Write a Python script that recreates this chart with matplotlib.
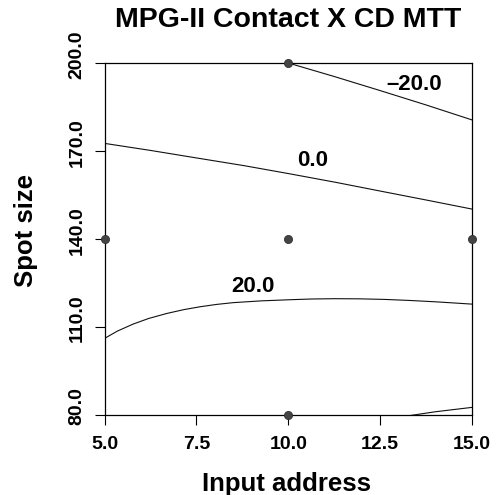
import matplotlib
matplotlib.use("Agg")
import matplotlib.pyplot as plt
import matplotlib.transforms as mtransforms

plt.rcParams['font.family'] = ['Liberation Sans', 'DejaVu Sans']
plt.rcParams['font.weight'] = 'bold'

title = "MPG-II Contact X CD MTT"
xlabel = "Input address"
ylabel = "Spot size"
xticks = [5.0, 7.5, 10.0, 12.5, 15.0]
yticks = [80.0, 110.0, 140.0, 170.0, 200.0]

# design points
pts_x = [5.0, 10.0, 15.0, 10.0, 10.0]
pts_y = [140.0, 140.0, 140.0, 200.0, 80.0]

# contour lines
c_m20_x = [10.0, 11.25, 12.5, 13.75, 15.0]
c_m20_y = [200.0, 195.4, 190.6, 185.7, 180.6]

c_0_x = [5.0, 6.25, 7.52, 8.8, 10.05, 11.3, 12.52, 13.75, 15.0]
c_0_y = [172.6, 170.2, 167.6, 165.0, 162.2, 159.3, 156.3, 153.3, 150.2]

c_20_x = [5.0, 5.35, 5.78, 6.2, 6.69, 7.15, 7.6, 8.05, 8.5, 9.25,
          10.05, 10.65, 11.27, 11.95, 12.63, 13.3, 13.99, 14.5, 15.0]
c_20_y = [106.1, 108.6, 111.0, 112.9, 114.6, 115.9, 116.9, 117.7, 118.3, 118.9,
          119.3, 119.55, 119.65, 119.6, 119.4, 119.05, 118.6, 118.2, 117.8]

c_40_x = [13.2, 14.0, 15.0]
c_40_y = [79.6, 81.1, 82.6]

labels = ["\u201320.0", "0.0", "20.0"]
label_x = [13.42, 10.66, 9.03]
label_y = [192.5, 166.9, 123.8]

fig = plt.figure(figsize=(4.98, 4.95), dpi=100)
ax = fig.add_axes([104.5 / 498, 1 - 415 / 495, (472 - 104.5) / 498, (415 - 63) / 495])

for xs, ys in [(c_m20_x, c_m20_y), (c_0_x, c_0_y), (c_20_x, c_20_y), (c_40_x, c_40_y)]:
    ax.plot(xs, ys, color='#111111', lw=0.8, zorder=2, solid_joinstyle='round')

for t, x, y in zip(labels, label_x, label_y):
    ax.text(x, y, t, ha='center', va='center', fontsize=16, fontweight='bold', zorder=3)

ax.scatter(pts_x, pts_y, s=34, color='#444444', edgecolors='#333333', linewidths=0.6,
           zorder=5, clip_on=False)

ax.set_xlim(5, 15)
ax.set_ylim(80, 200)
ax.set_xticks(xticks)
ax.set_yticks(yticks)
ax.set_xticklabels([f"{v:.1f}" for v in xticks])
ax.set_yticklabels([f"{v:.1f}" for v in yticks], rotation=90, va='center')
ax.tick_params(axis='both', direction='out', length=7.5, width=0.8, labelsize=14, pad=6)
ax.tick_params(axis='x', pad=7.5)
offset = mtransforms.ScaledTranslation(0, 8.5 / 100, fig.dpi_scale_trans)
for lab in ax.get_yticklabels():
    lab.set_transform(lab.get_transform() + offset)
    lab.set_fontweight('bold')
for lab in ax.get_xticklabels():
    lab.set_fontweight('bold')

for sp in ax.spines.values():
    sp.set_linewidth(0.9)

ax.set_title(title, fontsize=20.5, fontweight='bold', pad=26)
ax.set_xlabel(xlabel, fontsize=18.5, fontweight='bold')
ax.set_ylabel(ylabel, fontsize=18.5, fontweight='bold')
ax.xaxis.set_label_coords(0.495, -0.163)
ax.yaxis.set_label_coords(-0.18, 0.523)

fig.savefig("out.png", dpi=100)
